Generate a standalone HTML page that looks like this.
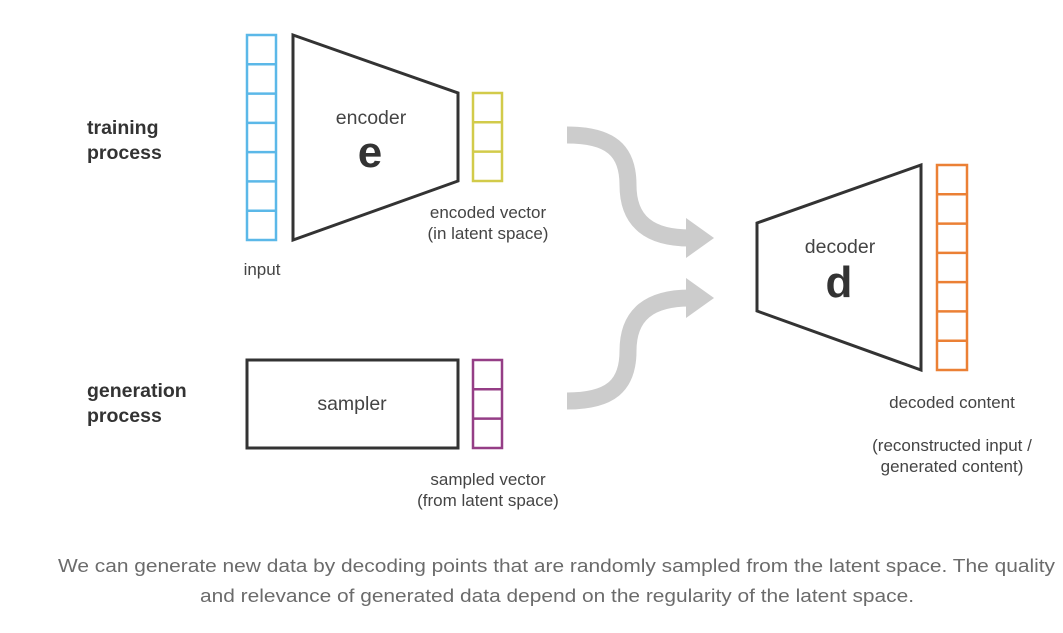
<!DOCTYPE html>
<html><head><meta charset="utf-8"><style>
html,body{margin:0;padding:0;background:#fff;}
svg{display:block;}
text{font-family:"Liberation Sans",sans-serif;}
</style></head><body>
<svg width="1063" height="633" viewBox="0 0 1063 633" xmlns="http://www.w3.org/2000/svg">
<g fill="none" stroke="#5bb8e8" stroke-width="2.5">
<rect x="247" y="35" width="29" height="205"/>
<line x1="247" y1="64.3" x2="276" y2="64.3"/><line x1="247" y1="93.6" x2="276" y2="93.6"/>
<line x1="247" y1="122.9" x2="276" y2="122.9"/><line x1="247" y1="152.1" x2="276" y2="152.1"/>
<line x1="247" y1="181.4" x2="276" y2="181.4"/><line x1="247" y1="210.7" x2="276" y2="210.7"/>
</g>
<polygon points="293,35 458,93 458,181 293,240" fill="none" stroke="#333" stroke-width="3"/>
<g fill="none" stroke="#d2cb4a" stroke-width="2.5">
<rect x="473" y="93" width="29" height="88"/>
<line x1="473" y1="122.3" x2="502" y2="122.3"/><line x1="473" y1="151.6" x2="502" y2="151.6"/>
</g>
<rect x="247" y="360" width="211" height="88" fill="none" stroke="#333" stroke-width="3"/>
<g fill="none" stroke="#953e86" stroke-width="2.5">
<rect x="473" y="360" width="29" height="88"/>
<line x1="473" y1="389.3" x2="502" y2="389.3"/><line x1="473" y1="418.6" x2="502" y2="418.6"/>
</g>
<g fill="none" stroke="#cccccc" stroke-width="17">
<path d="M567,135 C610,135 628,150 628,185 C628,222 650,238 690,238"/>
<path d="M567,401 C610,401 628,386 628,351 C628,314 650,298 690,298"/>
</g>
<polygon points="686,218 714,238 686,258" fill="#cccccc"/>
<polygon points="686,278 714,298 686,318" fill="#cccccc"/>
<polygon points="757,223 921,165 921,370 757,311" fill="none" stroke="#333" stroke-width="3"/>
<g fill="none" stroke="#eb8035" stroke-width="2.5">
<rect x="937" y="165" width="30" height="205"/>
<line x1="937" y1="194.3" x2="967" y2="194.3"/><line x1="937" y1="223.6" x2="967" y2="223.6"/>
<line x1="937" y1="252.9" x2="967" y2="252.9"/><line x1="937" y1="282.1" x2="967" y2="282.1"/>
<line x1="937" y1="311.4" x2="967" y2="311.4"/><line x1="937" y1="340.7" x2="967" y2="340.7"/>
</g>
<g fill="#333" font-size="19.5" font-weight="bold">
<text x="87" y="134">training</text>
<text x="87" y="159">process</text>
<text x="87" y="397">generation</text>
<text x="87" y="422">process</text>
</g>
<g fill="#444" font-size="17">
<text x="371" y="124" text-anchor="middle" font-size="19.5">encoder</text>
<text x="840" y="253" text-anchor="middle" font-size="19.5">decoder</text>
<text x="352" y="410" text-anchor="middle" font-size="19.5">sampler</text>
<text x="262" y="275" text-anchor="middle">input</text>
<text x="488" y="218" text-anchor="middle">encoded vector</text>
<text x="488" y="239" text-anchor="middle">(in latent space)</text>
<text x="488" y="485" text-anchor="middle">sampled vector</text>
<text x="488" y="506" text-anchor="middle">(from latent space)</text>
<text x="952" y="408" text-anchor="middle">decoded content</text>
<text x="952" y="451" text-anchor="middle">(reconstructed input /</text>
<text x="952" y="472" text-anchor="middle">generated content)</text>
</g>
<text x="370" y="167" text-anchor="middle" font-size="44" font-weight="bold" fill="#333">e</text>
<text x="839" y="297" text-anchor="middle" font-size="44" font-weight="bold" fill="#333">d</text>
<g fill="#6b6b6b" font-size="18">
<text x="58" y="572" textLength="997" lengthAdjust="spacingAndGlyphs">We can generate new data by decoding points that are randomly sampled from the latent space. The quality</text>
<text x="200" y="602" textLength="714" lengthAdjust="spacingAndGlyphs">and relevance of generated data depend on the regularity of the latent space.</text>
</g>
</svg>
</body></html>
